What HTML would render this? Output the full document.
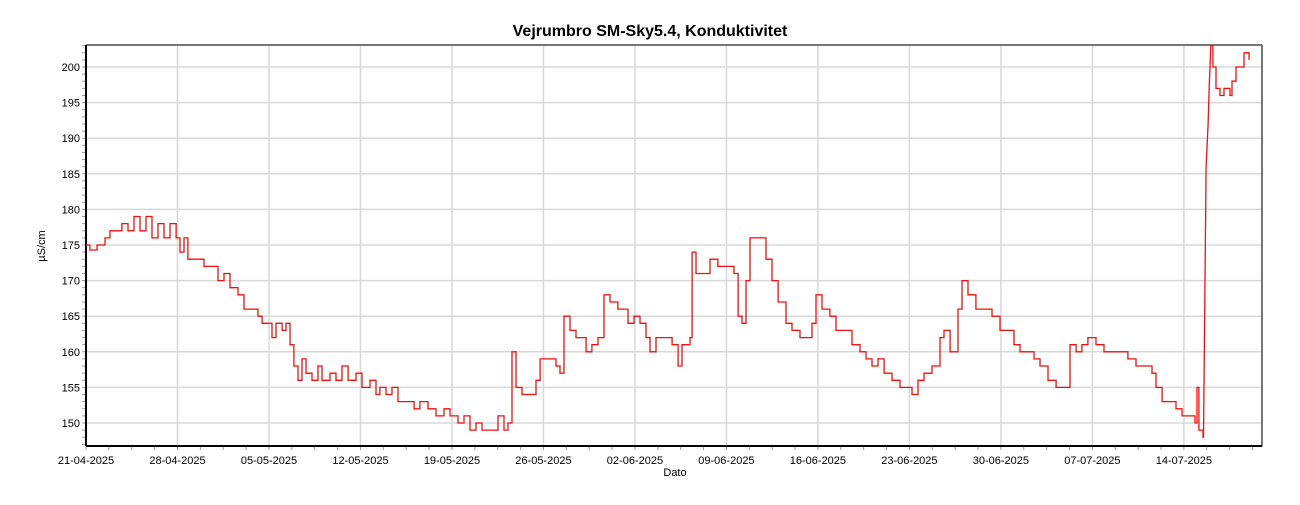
<!DOCTYPE html>
<html><head><meta charset="utf-8"><style>
body{margin:0;background:#fff;font-family:"Liberation Sans",sans-serif}
svg text{font-family:"Liberation Sans",sans-serif}
</style></head><body>
<svg id="chart" width="1300" height="500" xmlns="http://www.w3.org/2000/svg">
<text x="650" y="36" text-anchor="middle" font-size="16" font-weight="bold">Vejrumbro SM-Sky5.4, Konduktivitet</text>
<g id="grid"></g>
<g id="ticks"></g>
<path id="series" fill="none" stroke="#ee1111" stroke-width="1.3"/>
<text x="0" y="0" font-size="11" text-anchor="middle" transform="translate(45,246) rotate(-90)">µS/cm</text>
<text x="675" y="476" font-size="11" text-anchor="middle">Dato</text>
</svg>
<script>
const days=[0,0.3,0.84,1.45,1.84,2.45,2.75,3.21,3.67,4.13,4.59,5.05,5.51,5.97,6.43,6.89,7.19,7.5,7.8,8.42,9.03,9.64,10.1,10.56,11.02,11.63,12.09,12.55,13.16,13.47,13.92,14.23,14.54,15,15.3,15.61,15.91,16.22,16.53,16.83,17.29,17.75,18.06,18.67,19.13,19.59,20.05,20.66,21.12,21.73,22.19,22.49,22.95,23.41,23.87,24.48,25.1,25.55,26.17,26.78,27.39,27.85,28.46,28.92,29.38,29.84,30.3,30.91,31.52,31.98,32.29,32.59,32.9,33.36,33.82,34.43,34.74,35.35,35.96,36.27,36.57,37.03,37.49,37.95,38.26,38.71,39.17,39.63,40.09,40.7,41.16,41.47,41.93,42.39,42.85,43.15,43.61,44.22,44.84,45.3,45.6,46.21,46.37,46.67,47.28,47.74,48.35,48.97,49.58,49.89,50.19,50.5,50.8,51.42,52.03,52.49,52.95,53.56,54.02,54.63,55.09,55.55,55.85,56.31,56.92,57.38,58,58.61,59.22,59.68,60.14,60.6,61.06,61.67,62.28,62.89,63.2,63.66,64.12,64.73,65.34,65.65,66.11,66.41,66.72,67.02,67.48,68.09,68.71,69.32,69.93,70.54,71,71.46,72.07,72.53,72.99,73.6,74.22,74.98,75.29,75.75,76.2,76.66,77.28,77.89,78.5,79.11,79.72,80.34,81.1,81.56,81.87,82.33,82.94,83.4,83.86,84.47,84.85,85,85.15,85.46,85.5,85.7,85.85,85.95,86.07,86.22,86.46,86.76,87.07,87.38,87.53,87.68,87.99,88.29,88.6,88.98];
const values=[175,174.3,175,176,177,177,178,177,179,177,179,176,178,176,178,176,174,176,173,173,172,172,170,171,169,168,166,166,165,164,164,162,164,163,164,161,158,156,159,157,156,158,156,157,156,158,156,157,155,156,154,155,154,155,153,153,152,153,152,151,152,151,150,151,149,150,149,149,151,149,150,160,155,154,154,156,159,159,158,157,165,163,162,162,160,161,162,168,167,166,166,164,165,164,162,160,162,162,161,158,161,162,174,171,171,173,172,172,171,165,164,170,176,176,173,170,167,164,163,162,162,164,168,166,165,163,163,161,160,159,158,159,157,156,155,155,154,156,157,158,162,163,160,160,166,170,168,166,166,165,163,163,161,160,160,159,158,156,155,155,161,160,161,162,161,160,160,160,159,158,158,157,155,153,153,152,151,151,150,155,149,148,148,186,192,198,203,200,197,196,197,197,196,198,200,200,202,201];
const yTicks=[150,155,160,165,170,175,180,185,190,195,200];
const xLabels=["21-04-2025","28-04-2025","05-05-2025","12-05-2025","19-05-2025","26-05-2025","02-06-2025","09-06-2025","16-06-2025","23-06-2025","30-06-2025","07-07-2025","14-07-2025"];
const L=86,R=1262,T=45,B=446,pxDay=13.07;
const X=d=>L+d*pxDay;
const Y=v=>67+(200-v)*7.12;
const NS="http://www.w3.org/2000/svg";
const grid=document.getElementById('grid'),ticks=document.getElementById('ticks');
function mk(tag,attrs,parent){const e=document.createElementNS(NS,tag);for(const k in attrs)e.setAttribute(k,attrs[k]);parent.appendChild(e);return e;}
yTicks.forEach(v=>{
 const g=mk('line',{x1:L,x2:R,y1:Y(v),y2:Y(v),stroke:'#d8d8d8','stroke-width':1.5},grid);
 
 
 const t=mk('text',{x:L-6,y:Y(v)+4,'font-size':11,'text-anchor':'end'},ticks);
 
 
 t.textContent=v;
});
for(let v=147;v<=203;v++){mk('line',{x1:L-4,x2:L,y1:Y(v),y2:Y(v),stroke:'#999'},ticks);}
xLabels.forEach((s,i)=>{
 const x=X(i*7);
 const g=mk('line',{x1:x,x2:x,y1:T,y2:B,stroke:'#d8d8d8','stroke-width':1.5},grid);
 
 
 const t=mk('text',{x:x,y:464,'font-size':11,'text-anchor':'middle'},ticks);
 
 
 t.textContent=s;
});
for(let d=0;X(d)<=R;d+=1.75){mk('line',{x1:X(d),x2:X(d),y1:B,y2:B+4,stroke:'#999'},ticks);}
mk('line',{x1:L,x2:R,y1:T,y2:T,stroke:'#777','stroke-width':2},ticks);
mk('line',{x1:R,x2:R,y1:T,y2:B,stroke:'#777','stroke-width':2},ticks);
const ya=mk('line',{x1:L,x2:L,y1:T,y2:B,stroke:'#000','stroke-width':2},ticks);


const xa=mk('line',{x1:L,x2:R,y1:B,y2:B,stroke:'#000','stroke-width':2},ticks);


let d='';
days.forEach((dd,i)=>{
 const x=X(dd).toFixed(1),y=Y(values[i]).toFixed(1);
 if(i===0){d+='M'+x+' '+y;return;}
 const jump=Math.abs(values[i]-values[i-1]);
 if(jump>=4&&dd>85.4&&dd<86.2){d+='L'+x+' '+y;}
 else{d+='H'+x+'V'+y;}
});
document.getElementById('series').setAttribute('d',d);
</script>
</body></html>
